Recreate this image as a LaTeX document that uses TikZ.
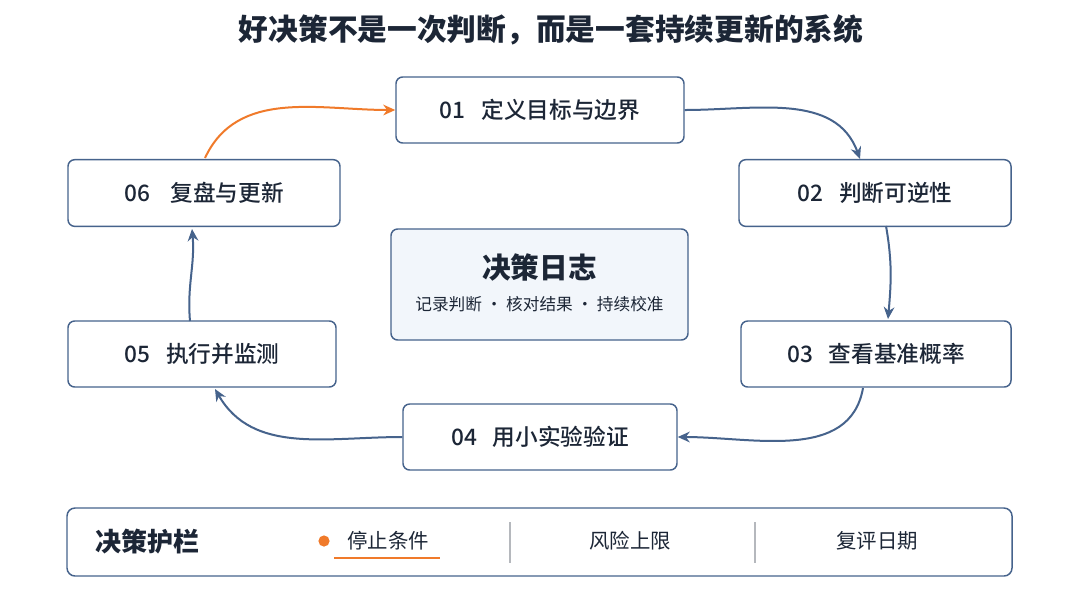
\documentclass[tikz,border=0pt]{standalone}
\usepackage{fontspec}
\setmainfont{Noto Sans CJK SC}
\newfontfamily\medfont{Noto Sans CJK SC Medium}
\usetikzlibrary{arrows.meta}
\definecolor{edge}{HTML}{46638C}
\definecolor{ink}{HTML}{1C2636}
\definecolor{accent}{HTML}{F07A2A}
\definecolor{panel}{HTML}{F2F6FB}
\definecolor{divider}{HTML}{B5B8BD}
\tikzset{
  stepbox/.style={draw=edge, line width=1.1pt, rounded corners=5pt, fill=white, text=ink, font=\medfont\fontsize{17}{20}\selectfont},
  flow/.style={draw=edge, line width=1.5pt, -{Stealth[length=9pt,width=8pt]}},
  backflow/.style={draw=accent, line width=1.5pt, -{Stealth[length=9pt,width=8pt]}},
}
\begin{document}
\begin{tikzpicture}[x=0.75pt,y=-0.75pt]
\useasboundingbox (0,0) rectangle (1080,608);
\fill[white] (0,0) rectangle (1080,608);
\node[font=\bfseries\fontsize{22.3}{26}\selectfont, text=ink] (title) at (551,30) {好决策不是一次判断，而是一套持续更新的系统};

\node[stepbox, minimum width=216pt, minimum height=49.5pt] (s1) at (540,110) {01\hspace{0.7em}定义目标与边界};
\node[stepbox, minimum width=204pt, minimum height=50pt] (s2) at (875,193) {02\hspace{0.7em}判断可逆性};
\node[stepbox, minimum width=202.5pt, minimum height=49.5pt] (s3) at (876,354) {03\hspace{0.7em}查看基准概率};
\node[stepbox, minimum width=205.5pt, minimum height=49.5pt] (s4) at (540,437) {04\hspace{0.7em}用小实验验证};
\node[stepbox, minimum width=201pt, minimum height=49.5pt] (s5) at (202,354) {05\hspace{0.7em}执行并监测};
\node[stepbox, minimum width=204pt, minimum height=50pt] (s6) at (204,193) {06\hspace{0.9em}复盘与更新};

\node[draw=edge, line width=1.1pt, rounded corners=5pt, fill=panel, minimum width=222.75pt, minimum height=83.25pt] (log) at (539.5,284.5) {};
\node[font=\bfseries\fontsize{21.5}{25}\selectfont, text=ink] (logt) at (539.5,267) {决策日志};
\node[font=\fontsize{12.5}{15}\selectfont, text=ink] (logs) at (539.5,304) {记录判断 · 核对结果 · 持续校准};

\draw[flow] (s1.east) to[out=0,in=110] (s2.north -| 860,0);
\draw[flow] (886,226) to[out=-80,in=85] (888,319);
\draw[flow] (863,388) to[out=-100,in=0] (s4.east);
\draw[flow] (s4.west) to[out=180,in=-60] (215,389);
\draw[flow] (190,321) to[out=95,in=-85] (192,229);
\draw[backflow] (205,158) to[out=65,in=180] (s1.west);

\node[draw=edge, line width=1.1pt, rounded corners=6pt, fill=white, minimum width=708.75pt, minimum height=51pt] (guard) at (539.5,542) {};
\node[font=\bfseries\fontsize{19.5}{23}\selectfont, text=ink] (gt) at (147,542) {决策护栏};
\fill[accent] (324,541) circle (4.2pt);
\node[font=\fontsize{15.3}{18}\selectfont, text=ink] (g1) at (388,541) {停止条件};
\draw[accent, line width=1pt] (334,558) -- (440,558);
\draw[divider, line width=1pt] (510,522) -- (510,563);
\node[font=\fontsize{15.3}{18}\selectfont, text=ink] (g2) at (630,541) {风险上限};
\draw[divider, line width=1pt] (755,522) -- (755,563);
\node[font=\fontsize{15.3}{18}\selectfont, text=ink] (g3) at (877,541) {复评日期};
\end{tikzpicture}
\end{document}
